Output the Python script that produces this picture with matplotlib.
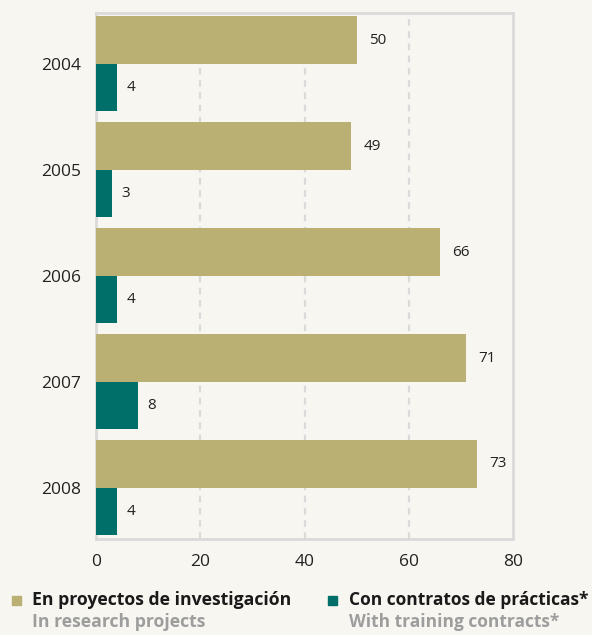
import numpy as np
import matplotlib.pyplot as plt
from matplotlib.patches import Rectangle

plt.rcParams['font.family'] = ['Open Sans', 'DejaVu Sans']

# data
years = ['2004', '2005', '2006', '2007', '2008']
research = [50, 49, 66, 71, 73]
training = [4, 3, 4, 8, 4]
x_ticks = [0, 20, 40, 60, 80]

bg = '#f7f6f1'
khaki = '#bbb073'
teal = '#006f6a'
frame = '#dadada'

fig = plt.figure(figsize=(5.92, 6.35), dpi=100, facecolor=bg)
ax = fig.add_axes([96/592, 1 - 538.5/635, 417/592, (538.5 - 13)/635])
ax.set_facecolor(bg)

pos = np.arange(len(years))
h = 0.447
ax.barh(pos - h/2, research, height=h, color=khaki, zorder=3)
ax.barh(pos + h/2, training, height=h, color=teal, zorder=3)

# value labels
for p, v in zip(pos, research):
    ax.annotate(str(v), (v, p - h/2), xytext=(9, 0), textcoords='offset points',
                ha='left', va='center', fontsize=11, color='#222222')
for p, v in zip(pos, training):
    ax.annotate(str(v), (v, p + h/2), xytext=(7, 0), textcoords='offset points',
                ha='left', va='center', fontsize=11, color='#222222')

ax.set_xlim(0, 80)
ax.set_ylim(4.48, -0.48)
ax.set_xticks(x_ticks)
ax.set_xticklabels([str(t) for t in x_ticks], fontsize=12.5, color='#222222')
ax.set_yticks(pos)
ax.set_yticklabels(years, fontsize=12.5, color='#222222')
ax.tick_params(axis='x', length=0, pad=11)
ax.tick_params(axis='y', length=0, pad=11)

for gx in x_ticks[1:-1]:
    ax.axvline(gx, color=frame, lw=1.6, linestyle=(0, (3, 2.5)), zorder=1)
for s in ax.spines.values():
    s.set_color(frame)
    s.set_linewidth(2)

# legend
fig.patches.append(Rectangle((12/592, 1 - 604.5/635), 9/592, 9/635,
                             transform=fig.transFigure, color=khaki))
fig.text(32/592, 1 - 600/635, 'En proyectos de investigación', fontsize=12.7,
         fontweight='bold', color='#1a1a1a', va='center')
fig.text(32/592, 1 - 622/635, 'In research projects', fontsize=12.7,
         fontweight='bold', color='#9d9d9d', va='center')
fig.patches.append(Rectangle((328/592, 1 - 604.5/635), 9/592, 9/635,
                             transform=fig.transFigure, color=teal))
fig.text(349/592, 1 - 600/635, 'Con contratos de prácticas*', fontsize=12.5,
         fontweight='bold', color='#1a1a1a', va='center')
fig.text(349/592, 1 - 622/635, 'With training contracts*', fontsize=12.5,
         fontweight='bold', color='#9d9d9d', va='center')

fig.savefig('out.png', dpi=100, facecolor=bg)
